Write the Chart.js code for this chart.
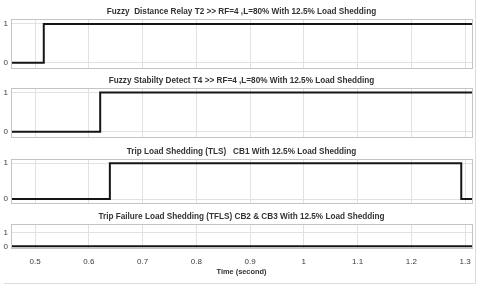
<!DOCTYPE html>
<html>
<head>
<meta charset="utf-8">
<script src="https://cdn.jsdelivr.net/npm/chart.js@4"></script>
<style>
  html, body { margin: 0; padding: 0; background: #fff; }
  #wrap { position: relative; width: 480px; height: 289px; overflow: hidden; }
  #wrap canvas { position: absolute; left: 0; }
  #frame { position: absolute; left: 4px; top: -2px; width: 471px; height: 285px;
           border-right: 1px solid #dcdcdc; border-bottom: 1px solid #dcdcdc; }
</style>
</head>
<body>
<div id="wrap">
  <div id="frame"></div>
  <canvas id="c1" width="480" height="71"></canvas>
  <canvas id="c2" width="480" height="71"></canvas>
  <canvas id="c3" width="480" height="66"></canvas>
  <canvas id="c4" width="480" height="70"></canvas>
</div>
<script>
// time axis (seconds)
const timeMin = 0.455;
const timeMax = 1.313;
const timeTicks = [0.5, 0.6, 0.7, 0.8, 0.9, 1.0, 1.1, 1.2, 1.3];
const timeTickLabels = ["0.5", "0.6", "0.7", "0.8", "0.9", "1", "1.1", "1.2", "1.3"];
const stateTicks = [0, 1];
const stateTickLabels = ["0", "1"];

const titles = [
  "Fuzzy  Distance Relay T2 >> RF=4 ,L=80% With 12.5% Load Shedding",
  "Fuzzy Stabilty Detect T4 >> RF=4 ,L=80% With 12.5% Load Shedding",
  "Trip Load Shedding (TLS)   CB1 With 12.5% Load Shedding",
  "Trip Failure Load Shedding (TFLS) CB2 & CB3 With 12.5% Load Shedding"
];

// signal switching instants and states
const relayTime = [0.455, 0.516, 1.313];
const relayState = [0, 1, 1];
const stabTime = [0.455, 0.621, 1.313];
const stabState = [0, 1, 1];
const tlsTime = [0.455, 0.639, 1.293, 1.313];
const tlsState = [0, 1, 0, 0];
const tflsTime = [0.455, 1.313];
const tflsState = [0, 0];

const FONT = "'Liberation Sans', Arial, sans-serif";

const boxPlugin = {
  id: "box",
  afterDraw(chart) {
    const a = chart.chartArea, ctx = chart.ctx;
    ctx.save();
    ctx.strokeStyle = "#c4c4c4";
    ctx.lineWidth = 1;
    ctx.strokeRect(Math.round(a.left) + 0.5, Math.round(a.top) + 0.5,
      Math.round(a.right - a.left), Math.round(a.bottom - a.top));
    ctx.restore();
  }
};

function makePanel(id, top, title, times, states, yMin, yMax, last) {
  const cv = document.getElementById(id);
  cv.style.top = top + "px";
  const pts = times.map((t, i) => ({ x: t, y: states[i] }));
  new Chart(cv, {
    type: "line",
    data: {
      datasets: [{
        data: pts,
        stepped: true,
        borderColor: "#151515",
        borderWidth: 2,
        pointRadius: 0,
        fill: false
      }]
    },
    options: {
      responsive: false,
      animation: false,
      events: [],
      layout: { padding: { left: 0, right: 8, top: 0, bottom: 0 } },
      plugins: {
        legend: { display: false },
        tooltip: { enabled: false },
        title: {
          display: true,
          fullSize: false,
          text: title,
          color: "#333",
          font: { family: FONT, size: 8.2, weight: "bold" },
          padding: { top: 2, bottom: 2.2 }
        }
      },
      scales: {
        x: {
          type: "linear",
          min: timeMin,
          max: timeMax,
          afterBuildTicks: s => { s.ticks = timeTicks.map(v => ({ value: v })); },
          afterFit: s => { s.height = last ? 31.5 : 6; },
          grid: { color: "#e2e2e2", drawTicks: false },
          border: { display: false },
          ticks: {
            display: last,
            padding: 8.4,
            color: "#3a3a3a",
            font: { family: FONT, size: 8 },
            callback: (v, i) => timeTickLabels[i]
          },
          title: {
            display: last,
            text: "Time (second)",
            color: "#333",
            font: { family: FONT, size: 7.4, weight: "bold" },
            padding: { top: 0, bottom: 3.3 }
          }
        },
        y: {
          min: yMin,
          max: yMax,
          afterBuildTicks: s => { s.ticks = stateTicks.map(v => ({ value: v })); },
          afterFit: s => { s.width = 11; },
          grid: { color: "#e2e2e2", drawTicks: false },
          border: { display: false },
          ticks: {
            padding: 3,
            color: "#3a3a3a",
            font: { family: FONT, size: 8 },
            callback: (v, i) => stateTickLabels[i]
          }
        }
      }
    },
    plugins: [boxPlugin]
  });
}

makePanel("c1", 5, titles[0], relayTime, relayState, -0.14, 1.125, false);
makePanel("c2", 74, titles[1], stabTime, stabState, -0.14, 1.115, false);
makePanel("c3", 145, titles[2], tlsTime, tlsState, -0.115, 1.115, false);
makePanel("c4", 210, titles[3], tflsTime, tflsState, -0.16, 1.62, true);
</script>
</body>
</html>
